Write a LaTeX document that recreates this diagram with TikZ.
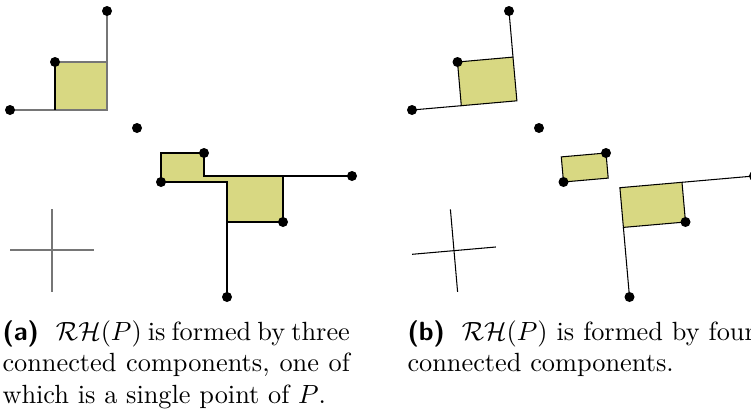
\documentclass[tikz,border=0pt]{standalone}
\definecolor{hullfill}{HTML}{D8D882}
\definecolor{hullgray}{HTML}{767676}
\usepackage{tikz}

\begin{document}
\begin{tikzpicture}[
      x=0.38pt, y=-0.38pt,
      pnt/.style={circle, fill=black, inner sep=0pt, minimum size=3.8pt},
      hull/.style={fill=hullfill},
      hulledge/.style={draw=black, line width=0.4pt},
      greyedge/.style={draw=hullgray, line width=0.45pt},
      captext/.style={anchor=north west, inner sep=0pt, text width=132pt,
                  align=justify, font=\normalsize}
    ]
    \useasboundingbox (0,0) rectangle (751,417);
    \clip (0,0) rectangle (751,417);
    % (a) axis-parallel hull
    \coordinate (a1) at (107,11);  \coordinate (a2) at (55,62);
    \coordinate (a3) at (10,110);  \coordinate (a4) at (137,128);
    \coordinate (a5) at (204,153); \coordinate (a6) at (161,182);
    \coordinate (a7) at (352,176); \coordinate (a8) at (283,222);
    \coordinate (a9) at (227,297);
    \fill[hull] (a2) rectangle (a1 |- a3);
    \draw[greyedge] (a3) -- (a2 |- a3) -- (a1 |- a3) -- (a1);
    \draw[greyedge] (a2) -- (a1 |- a2);
    \draw[hulledge] (a2) -- (a2 |- a3);
    \draw[hulledge, hull] (a6 |- a5) -- (a5) -- (a5 |- a7) -- (a8 |- a7) -- (a8)
      -- (a9 |- a8) -- (a9 |- a6) -- (a6) -- cycle;
    \draw[hulledge] (a8 |- a7) -- (a7);
    \draw[hulledge] (a9 |- a8) -- (a9);
    \coordinate (ah1) at (10,250); \coordinate (ah2) at (94,250);
    \coordinate (av1) at (52,209); \coordinate (av2) at (52,292);
    \draw[greyedge] (ah1) -- (ah2);
    \draw[greyedge] (av1) -- (av2);
    \foreach \p in {a1,a2,a3,a4,a5,a6,a7,a8,a9}
      \node[pnt] (n\p) at (\p) {};
    % (b) hull in axes turned by 5 degrees
    \coordinate (b1) at (509,11);    \coordinate (b2) at (457.5,62);
    \coordinate (b3) at (412,110);   \coordinate (b4) at (539,128);
    \coordinate (b5) at (606,153);   \coordinate (b6) at (563.5,182);
    \coordinate (b7) at (754,176);   \coordinate (b8) at (685.5,222);
    \coordinate (b9) at (629.5,297);
    \coordinate (c1) at (461.3,105.7); \coordinate (c2) at (513.0,57.1);
    \coordinate (c3) at (516.9,100.8);
    \coordinate (c4) at (561.3,156.9); \coordinate (c5) at (608.2,178.1);
    \coordinate (c6) at (619.9,187.7); \coordinate (c7) at (682.0,182.3);
    \coordinate (c8) at (623.4,227.4);
    \draw[hulledge, hull] (b2) -- (c2) -- (c3) -- (c1) -- cycle;
    \draw[hulledge] (b3) -- (c1);
    \draw[hulledge] (b1) -- (c2);
    \draw[hulledge, hull] (c4) -- (b5) -- (c5) -- (b6) -- cycle;
    \draw[hulledge, hull] (c6) -- (c7) -- (b8) -- (c8) -- cycle;
    \draw[hulledge] (c7) -- (b7);
    \draw[hulledge] (c8) -- (b9);
    \coordinate (bh1) at (412.2,254.3); \coordinate (bh2) at (495.8,247.0);
    \coordinate (bv1) at (450.4,209.3); \coordinate (bv2) at (457.6,291.9);
    \draw[hulledge] (bh1) -- (bh2);
    \draw[hulledge] (bv1) -- (bv2);
    \foreach \p in {b1,b2,b3,b4,b5,b6,b7,b8,b9}
      \node[pnt] (n\p) at (\p) {};
    % captions
    \node[captext] (capa) at (2,320) {\textsf{\textbf{(a)}}\hspace*{6.5pt}$\mathcal{RH}(P)$ is formed by three\linebreak
      connected components, one of\linebreak which is a single point of~$P$.};
    \node[captext] (capb) at (407,320) {\textsf{\textbf{(b)}}\hspace*{6.5pt}$\mathcal{RH}(P)$ is formed by four\linebreak
      connected components.};
  \end{tikzpicture}
\end{document}
